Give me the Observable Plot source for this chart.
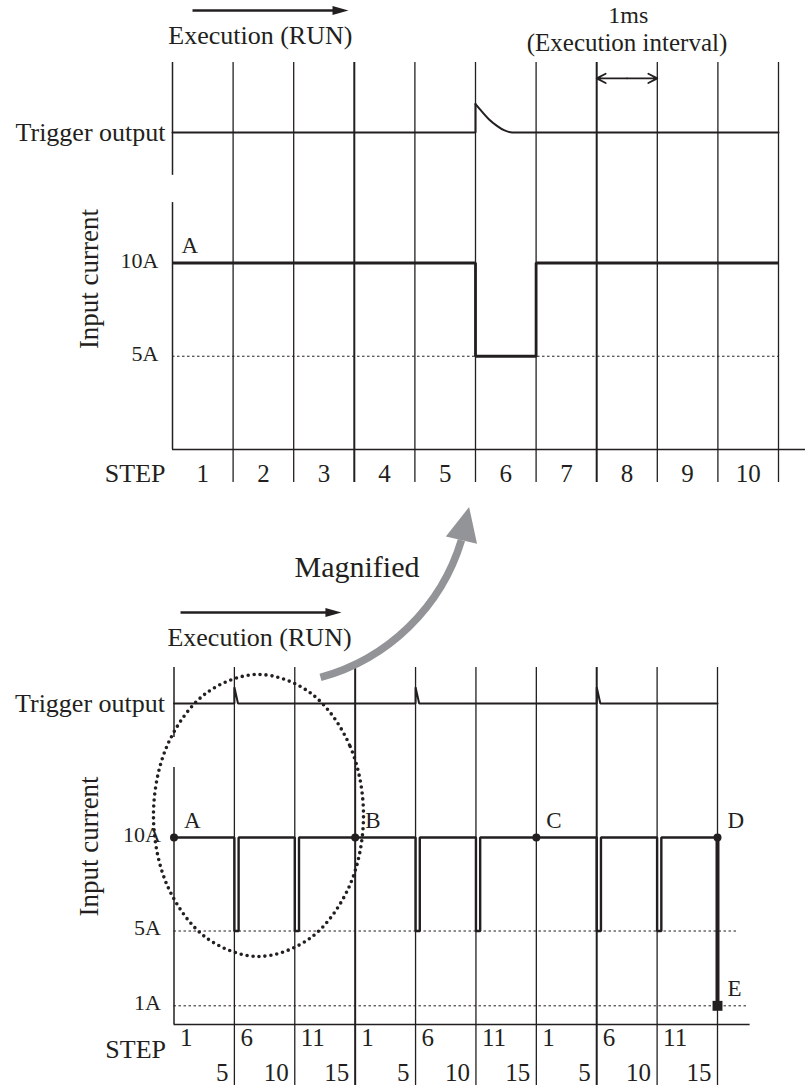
<!DOCTYPE html>
<html>
<head>
<meta charset="utf-8">
<script src="https://cdn.jsdelivr.net/npm/d3@7"></script>
<script src="https://cdn.jsdelivr.net/npm/@observablehq/plot@0.6"></script>
<style>
  html, body { margin: 0; padding: 0; background: #fff; }
  #chart svg { display: block; }
</style>
</head>
<body>
<div id="chart"></div>
<script>
// ================= DATA =================
// ---- Top chart: one cycle, magnified (10 steps, 1 ms each) ----
const topSteps = ["1", "2", "3", "4", "5", "6", "7", "8", "9", "10"];
const topCurrent = [10, 10, 10, 10, 10, 5, 10, 10, 10, 10];         // A per step
const topLevels = [10, 5];
const topLevelLabels = ["10A", "5A"];
// trigger output pulse (time in steps, level above idle)
const topTriggerT = [0, 5, 5, 5.11, 5.22, 5.36, 5.47, 5.61, 10];
const topTriggerV = [0, 0, 1.52, 1.1, 0.71, 0.34, 0.12, 0, 0];
const topPointLabels = ["A"];
const intervalSteps = [7, 8];                                       // 1 ms execution interval

// ---- Bottom chart: three sequences of 15 steps ----
const bottomBoundaries = [0, 5, 10, 15, 20, 25, 30, 35, 40, 45];
const bottomStartLabels = ["1", "6", "11", "1", "6", "11", "1", "6", "11"];
const bottomEndLabels = ["5", "10", "15", "5", "10", "15", "5", "10", "15"];
const bottomCurrentT = [0, 5, 5, 5.35, 5.35, 10, 10, 10.35, 10.35, 20, 20, 20.35, 20.35,
                        25, 25, 25.35, 25.35, 35, 35, 35.35, 35.35, 40, 40, 40.35, 40.35, 45];
const bottomCurrentA = [10, 10, 5, 5, 10, 10, 5, 5, 10, 10, 5, 5, 10,
                        10, 5, 5, 10, 10, 5, 5, 10, 10, 5, 5, 10, 10];
const bottomTriggerT = [0, 5, 5, 5.3, 20, 20, 20.3, 35, 35, 35.3, 45];
const bottomTriggerV = [0, 0, 0.86, 0, 0, 0.86, 0, 0, 0.86, 0, 0];
const bottomLevels = [10, 5, 1];
const bottomLevelLabels = ["10A", "5A", "1A"];
const pointSteps = [0, 15, 30, 45];
const pointCurrent = [10, 10, 10, 10];
const pointLabels = ["A", "B", "C", "D"];
const endSteps = [45];
const endCurrent = [1];
const endLabels = ["E"];
// dotted ellipse (steps, A units)
const ellipseT = [15.69, 14.53, 11.34, 6.99, 2.65, -0.54, -1.70, -0.54, 2.65, 6.99, 11.34, 14.53];
const ellipseA = [11.18, 14.95, 17.71, 18.72, 17.71, 14.95, 11.18, 7.41, 4.65, 3.64, 4.65, 7.41];

// ================= STYLE / LAYOUT =================
const INK = "#231f20";
const GRAY = "#929497";
const FONT = "'Liberation Serif', 'Times New Roman', Times, serif";
const TOP_LANE = 17.0;     // trigger row position in the top chart's y units
const BOT_LANE = 17.17;    // trigger row position in the bottom chart's y units

// ================= TOP CHART =================
const topCurrentPts = topCurrent.map((a, i) => ({t: i, a}))
  .concat([{t: topCurrent.length, a: topCurrent[topCurrent.length - 1]}]);
const topTrig = topTriggerT.map((t, i) => ({t, v: TOP_LANE + topTriggerV[i]}));
const topBounds = topSteps.map((d, i) => i + 1);

const topPlot = Plot.plot({
  width: 805, height: 490,
  marginLeft: 172, marginRight: 27, marginTop: 62, marginBottom: 8,
  x: {domain: [0, 10], axis: null},
  y: {domain: [-1.77, 20.75], axis: null},
  style: {fontFamily: FONT, background: "white", color: INK, overflow: "visible"},
  marks: [
    Plot.ruleX(topBounds, {stroke: INK, strokeWidth: d => (d === 3 || d === 7) ? 2 : 1.3}),
    Plot.ruleX([0], {y1: 14.7, y2: 20.75, stroke: INK, strokeWidth: 1.5}),
    Plot.ruleX([0], {y1: 0, y2: 13.24, stroke: INK, strokeWidth: 1.5}),
    Plot.ruleY([0], {x1: 0, x2: 10.45, stroke: INK, strokeWidth: 1.5}),
    Plot.ruleY([5], {x1: 0, x2: 10, stroke: INK, strokeWidth: 1, strokeDasharray: "2.5,2.5"}),
    Plot.line(topCurrentPts, {x: "t", y: "a", curve: "step-after", stroke: INK, strokeWidth: 2.8,
      strokeLinejoin: "miter", strokeLinecap: "butt"}),
    Plot.line(topTrig.slice(0, 3), {x: "t", y: "v", stroke: INK, strokeWidth: 2, strokeLinejoin: "miter"}),
    Plot.line(topTrig.slice(2), {x: "t", y: "v", curve: "monotone-x", stroke: INK, strokeWidth: 2}),
    // texts
    Plot.text(topSteps, {x: (d, i) => i + 0.5, y: -1.3, text: d => d, fontSize: 25, fill: INK}),
    Plot.text(["STEP"], {x: 0, y: -1.3, dx: -7, textAnchor: "end", fontSize: 26, fill: INK}),
    Plot.text(topLevelLabels, {x: 0, y: (d, i) => topLevels[i], dx: -14, dy: -2, textAnchor: "end", fontSize: 22, fill: INK}),
    Plot.text(["Trigger output"], {x: 0, y: TOP_LANE, dx: -7, textAnchor: "end", fontSize: 26, fill: INK}),
    Plot.text(["Input current"], {x: -1.38, y: 9.14, rotate: -90, fontSize: 27, fill: INK}),
    Plot.text(topPointLabels, {x: 0, y: 10, dx: 9, dy: -17, textAnchor: "start", fontSize: 23, fill: INK}),
    // execution arrow
    Plot.link([0], {x1: 0.33, x2: 2.7, y1: 23.54, y2: 23.54, stroke: INK, strokeWidth: 2.5}),
    Plot.vector([0], {x: 2.64, y: 23.54, rotate: 90, length: 16, r: 4.5, shape: "spike", anchor: "start", fill: INK, stroke: "none"}),
    Plot.text(["Execution (RUN)"], {x: 1.45, y: 22.21, fontSize: 26, fill: INK}),
    // execution interval
    Plot.arrow(intervalSteps, {x1: 7.5, y1: 19.9, x2: d => d, y2: 19.9, stroke: INK, strokeWidth: 1.8,
      headLength: 11, headAngle: 55}),
    Plot.text(["1ms"], {x: 7.52, y: 23.27, fontSize: 24, fill: INK}),
    Plot.text(["(Execution interval)"], {x: 7.5, y: 21.82, fontSize: 25, fill: INK})
  ]
});

// ================= BOTTOM CHART =================
const botCurrentPts = bottomCurrentT.map((t, i) => ({t, a: bottomCurrentA[i]}));
const botTrig = bottomTriggerT.map((t, i) => ({t, v: BOT_LANE + bottomTriggerV[i]}));
const points = pointSteps.map((t, i) => ({t, a: pointCurrent[i], label: pointLabels[i]}));
const ends = endSteps.map((t, i) => ({t, a: endCurrent[i], label: endLabels[i]}));
const ellipse = ellipseT.map((t, i) => ({t, a: ellipseA[i]}));

const botPlot = Plot.plot({
  width: 805, height: 600,
  marginLeft: 173.5, marginRight: 88, marginTop: 177, marginBottom: 5,
  x: {domain: [0, 45], axis: null},
  y: {domain: [-3.26, 19.09], axis: null},
  style: {fontFamily: FONT, background: "white", color: INK, overflow: "visible"},
  marks: [
    Plot.ruleX(bottomBoundaries.slice(1), {stroke: INK, strokeWidth: d => (d === 15 || d === 35) ? 2 : 1.3}),
    Plot.ruleX([0], {y1: 15.35, y2: 19.09, stroke: INK, strokeWidth: 1.5}),
    Plot.ruleX([0], {y1: 0, y2: 13.74, stroke: INK, strokeWidth: 1.5}),
    Plot.ruleY([0], {x1: 0, x2: 47.7, stroke: INK, strokeWidth: 1.5}),
    Plot.ruleY([5], {x1: 0, x2: 46.66, stroke: INK, strokeWidth: 1, strokeDasharray: "2.5,2.5"}),
    Plot.ruleY([1], {x1: 0, x2: 47.5, stroke: INK, strokeWidth: 1, strokeDasharray: "2.5,2.5"}),
    // dotted ellipse
    Plot.line(ellipse, {x: "t", y: "a", curve: "catmull-rom-closed", stroke: INK, strokeWidth: 3.6,
      strokeDasharray: "0,6", strokeLinecap: "round"}),
    // current
    Plot.line(botCurrentPts, {x: "t", y: "a", stroke: INK, strokeWidth: 2.4, strokeLinejoin: "miter", strokeLinecap: "butt"}),
    Plot.link([0], {x1: pointSteps[3], y1: pointCurrent[3], x2: endSteps[0], y2: endCurrent[0], stroke: INK, strokeWidth: 4}),
    Plot.dot(points, {x: "t", y: "a", r: 4, fill: INK}),
    Plot.dot(ends, {x: "t", y: "a", r: 5.6, symbol: "square", fill: INK}),
    // trigger
    Plot.line(botTrig, {x: "t", y: "v", stroke: INK, strokeWidth: 2, strokeLinejoin: "miter"}),
    // texts
    Plot.text(bottomStartLabels, {x: (d, i) => bottomBoundaries[i], y: -0.7, dx: 6, textAnchor: "start", fontSize: 25, fill: INK}),
    Plot.text(bottomEndLabels, {x: (d, i) => bottomBoundaries[i + 1], y: -2.57, dx: -6, textAnchor: "end", fontSize: 25, fill: INK}),
    Plot.text(["STEP"], {x: 0, y: -1.32, dx: -8, textAnchor: "end", fontSize: 26, fill: INK}),
    Plot.text(bottomLevelLabels, {x: 0, y: (d, i) => bottomLevels[i], dx: -13, dy: -3, textAnchor: "end", fontSize: 22, fill: INK}),
    Plot.text(["Trigger output"], {x: 0, y: BOT_LANE, dx: -9, textAnchor: "end", fontSize: 26, fill: INK}),
    Plot.text(["Input current"], {x: -7.04, y: 9.52, rotate: -90, fontSize: 27, fill: INK}),
    Plot.text(points, {x: "t", y: "a", text: "label", dx: 10, dy: -17, textAnchor: "start", fontSize: 23, fill: INK}),
    Plot.text(ends, {x: "t", y: "a", text: "label", dx: 10, dy: -17, textAnchor: "start", fontSize: 23, fill: INK}),
    // execution arrow
    Plot.link([0], {x1: 0.54, x2: 12.8, y1: 22.03, y2: 22.03, stroke: INK, strokeWidth: 2.5}),
    Plot.vector([0], {x: 12.54, y: 22.03, rotate: 90, length: 16, r: 4.5, shape: "spike", anchor: "start", fill: INK, stroke: "none"}),
    Plot.text(["Execution (RUN)"], {x: 7.08, y: 20.71, fontSize: 26, fill: INK}),
    // magnified arrow
    Plot.arrow([0], {x1: 12.13, y1: 18.56, x2: 23.8, y2: 25.9, bend: -29, headLength: 0,
      stroke: GRAY, strokeWidth: 7.5, strokeLinecap: "butt"}),
    Plot.vector([0], {x: 23.8, y: 25.9, rotate: 13, length: 34, r: 16, shape: "spike", anchor: "start", fill: GRAY, stroke: "none"}),
    Plot.text(["Magnified"], {x: 15.15, y: 24.42, fontSize: 30, fill: INK})
  ]
});

const root = document.getElementById("chart");
root.appendChild(topPlot);
root.appendChild(botPlot);
</script>
</body>
</html>
